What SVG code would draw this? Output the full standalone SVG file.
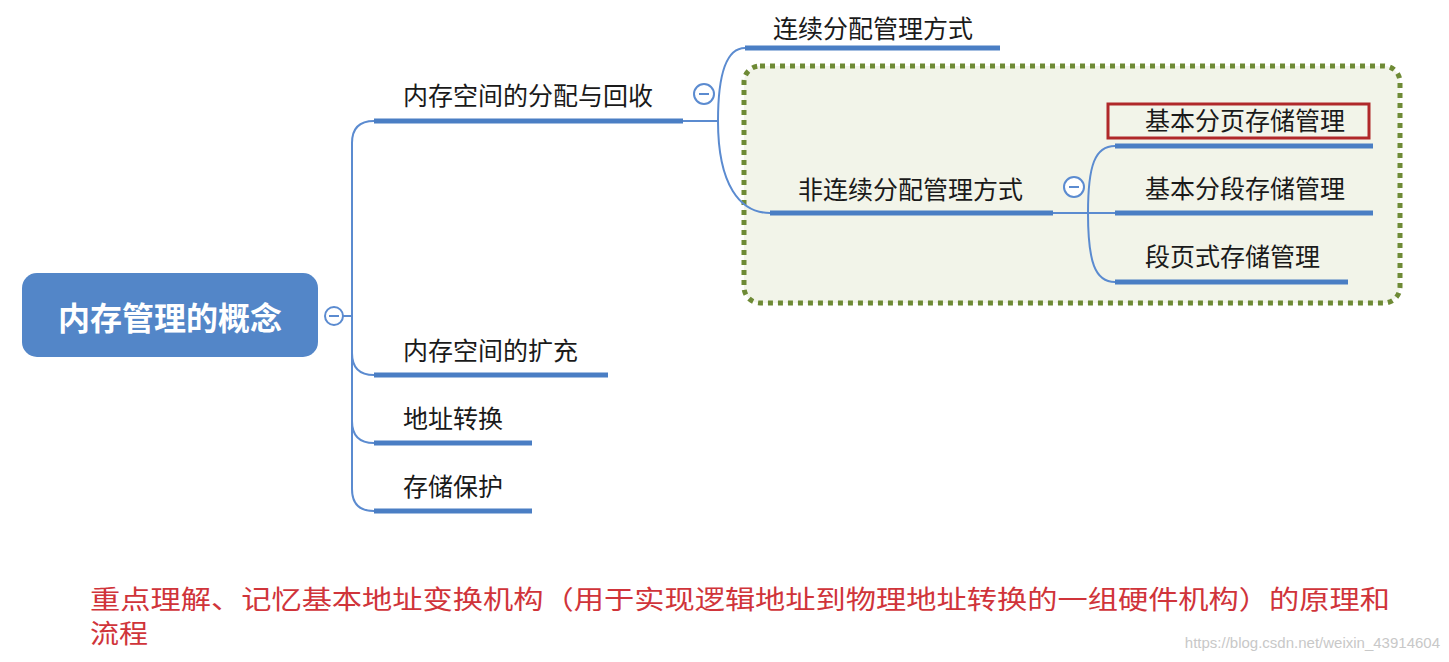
<svg xmlns="http://www.w3.org/2000/svg" width="1449" height="662" viewBox="0 0 1449 662">
<style>
.t{font-family:"Noto Sans CJK SC","Noto Sans",sans-serif;font-size:25px;fill:#1a1a1a;}
.ul{stroke:#4A7EC4;stroke-width:5;fill:none;}
.cn{stroke:#5B8BD0;stroke-width:2;fill:none;}
.col circle{fill:#fff;stroke:#5B8BD0;stroke-width:2;}
.col line{stroke:#5B8BD0;stroke-width:2;}
.note{font-family:"Noto Sans CJK SC",sans-serif;font-size:26px;fill:#D0343A;}
</style>
<rect width="1449" height="662" fill="#fff"/>
<g id="group-box">
<rect x="744" y="66" width="656" height="237" rx="16" fill="#F2F4E9" stroke="#6E8A35" stroke-width="5" stroke-dasharray="5 5"/>
</g>
<g id="connectors">
<path class="cn" d="M342,316 L352,316"/>
<path class="cn" d="M374,121 Q352,121 352,143 L352,489 Q352,511 374,511"/>
<path class="cn" d="M352,353 Q352,375 374,375"/>
<path class="cn" d="M352,421 Q352,443 374,443"/>
<path class="cn" d="M683,121 L718,121"/>
<path class="cn" d="M718,121 C718,70 728,48 745,48"/>
<path class="cn" d="M718,121 C718,185 740,213 770,213"/>
<path class="cn" d="M1053,213 L1088,213"/>
<path class="cn" d="M1088,213 C1088,165 1095,146 1115,146"/>
<path class="cn" d="M1088,213 L1115,213"/>
<path class="cn" d="M1088,213 C1088,262 1095,282 1115,282"/>
</g>
<g id="root">
<rect x="22" y="273" width="296" height="84" rx="15" fill="#5386C8"/>
<text x="170" y="330" font-family="Noto Sans CJK SC,sans-serif" font-size="32" font-weight="bold" fill="#fff" text-anchor="middle">内存管理的概念</text>
<g class="col"><circle cx="334" cy="316" r="9"/><line x1="329" y1="316" x2="339" y2="316"/></g>
</g>
<g id="n-alloc">
<text class="t" x="403" y="105">内存空间的分配与回收</text>
<line class="ul" x1="374" y1="121" x2="683" y2="121"/>
<g class="col"><circle cx="704" cy="94" r="10"/><line x1="699" y1="94" x2="709" y2="94"/></g>
</g>
<g id="n-contig">
<text class="t" x="773" y="38">连续分配管理方式</text>
<line class="ul" x1="745" y1="48" x2="1000" y2="48"/>
</g>
<g id="n-noncontig">
<text class="t" x="798" y="199">非连续分配管理方式</text>
<line class="ul" x1="770" y1="213" x2="1053" y2="213"/>
<g class="col"><circle cx="1074" cy="187" r="10"/><line x1="1069" y1="187" x2="1079" y2="187"/></g>
</g>
<g id="n-page">
<rect x="1108" y="104" width="261" height="34" fill="none" stroke="#B0282A" stroke-width="3"/>
<text class="t" x="1145" y="130">基本分页存储管理</text>
<line class="ul" x1="1115" y1="146" x2="1373" y2="146"/>
</g>
<g id="n-seg">
<text class="t" x="1145" y="198">基本分段存储管理</text>
<line class="ul" x1="1115" y1="213" x2="1373" y2="213"/>
</g>
<g id="n-segpage">
<text class="t" x="1145" y="266">段页式存储管理</text>
<line class="ul" x1="1115" y1="282" x2="1348" y2="282"/>
</g>
<g id="n-expand">
<text class="t" x="403" y="360">内存空间的扩充</text>
<line class="ul" x1="374" y1="375" x2="608" y2="375"/>
</g>
<g id="n-addr">
<text class="t" x="403" y="428">地址转换</text>
<line class="ul" x1="374" y1="443" x2="532" y2="443"/>
</g>
<g id="n-protect">
<text class="t" x="403" y="496">存储保护</text>
<line class="ul" x1="374" y1="511" x2="532" y2="511"/>
</g>
<g id="note">
<text class="note" x="90" y="609" textLength="1300" lengthAdjust="spacingAndGlyphs">重点理解、记忆基本地址变换机构（用于实现逻辑地址到物理地址转换的一组硬件机构）的原理和</text>
<text class="note" x="90" y="643" textLength="58" lengthAdjust="spacingAndGlyphs">流程</text>
</g>
<text x="1440" y="648" font-family="Liberation Sans,sans-serif" font-size="15" fill="#C8C8C8" text-anchor="end">https://blog.csdn.net/weixin_43914604</text>
</svg>
